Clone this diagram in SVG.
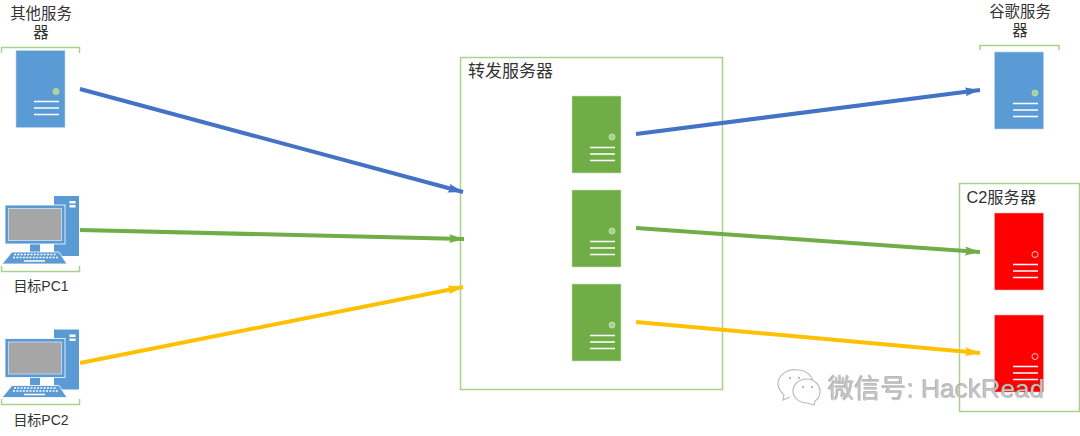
<svg xmlns="http://www.w3.org/2000/svg" width="1080" height="436" viewBox="0 0 1080 436">
<style>
text{font-family:"Liberation Sans","Noto Sans CJK SC",sans-serif;font-size:14px;fill:#333}
.m{text-anchor:middle}
.t{font-size:15.400px}
.box{fill:#fff;stroke:#a9d18e;stroke-width:1.500}
.br{fill:none;stroke:#a9d18e;stroke-width:1.500}
.l{fill:none;stroke:#fff;stroke-width:1.600}
.c{stroke-width:4;fill:none}
.wm{font-size:26.300px;fill:#c4c4c4}
</style>
<defs>
<filter id="emb" x="-5%" y="-20%" width="110%" height="140%"><feDropShadow dx="-.6" dy="-.6" stdDeviation=".25" flood-color="#666" flood-opacity=".75"/></filter>
<marker id="ab" markerUnits="userSpaceOnUse" markerWidth="16" markerHeight="10" refX="15" refY="5" orient="auto"><path d="M0 .5L15 5L0 9.500L2.500 5Z" fill="#4472c4"/></marker>
<marker id="ag" markerUnits="userSpaceOnUse" markerWidth="16" markerHeight="10" refX="15" refY="5" orient="auto"><path d="M0 .5L15 5L0 9.500L2.500 5Z" fill="#70ad47"/></marker>
<marker id="ay" markerUnits="userSpaceOnUse" markerWidth="16" markerHeight="10" refX="15" refY="5" orient="auto"><path d="M0 .5L15 5L0 9.500L2.500 5Z" fill="#ffc000"/></marker>
<g id="lines"><path class="l" d="M18 51.500H43M18 58H43M18 64.500H43"/></g>
<g id="pc">
<rect x="54" y="196" width="25" height="60" fill="#5b9bd5"/>
<rect x="69.500" y="201" width="6" height="2.500" fill="#fff"/><rect x="69.500" y="205" width="6" height="2.500" fill="#fff"/>
<rect x="30" y="243" width="10" height="9" fill="#5b9bd5"/>
<rect x="5" y="205" width="60" height="39" fill="#5b9bd5" stroke="#fff" stroke-width=".8"/>
<rect x="8.500" y="208.500" width="53" height="32" fill="#a6a6a6" stroke="#bdd7ee" stroke-width="1"/>
<path d="M12 252H59L67 264H2Z" fill="#5b9bd5" stroke="#fff" stroke-width=".8"/>
<path d="M14 254.500H57M13 257.500H58" stroke="#fff" stroke-width="1.600" stroke-dasharray="2 1.300" fill="none"/>
<path d="M24 261H45" stroke="#fff" stroke-width="1.500"/>
</g>
</defs>
<rect id="relay-box" class="box" x="460.500" y="57.500" width="262" height="332"/>
<rect id="c2-box" class="box" x="959.500" y="183.500" width="120" height="228"/>
<g id="connectors">
<path class="c" stroke="#4472c4" marker-end="url(#ab)" d="M80 89L463 192"/>
<path class="c" stroke="#70ad47" marker-end="url(#ag)" d="M80 230L464 239"/>
<path class="c" stroke="#ffc000" marker-end="url(#ay)" d="M80 363L463 287"/>
<path class="c" stroke="#4472c4" marker-end="url(#ab)" d="M636 134L980 90"/>
<path class="c" stroke="#70ad47" marker-end="url(#ag)" d="M636 228L980 252"/>
<path class="c" stroke="#ffc000" marker-end="url(#ay)" d="M636 322L980 353"/>
</g>
<g id="other-server">
<text class="m t" x="41" y="19">其他服务</text><text class="m t" x="41" y="38">器</text>
<path class="br" d="M1.500 53V47.500H79.500V53"/>
<rect x="16" y="50.500" width="49" height="77" fill="#5b9bd5" stroke="#bdd7ee" stroke-width=".6"/>
<circle cx="56" cy="91.500" r="3" fill="#a9d18e" stroke="#c5e0b4" stroke-width=".8"/>
<use href="#lines" x="16" y="50"/>
</g>
<g id="pc1"><use href="#pc"/>
<path class="br" d="M1.500 266V271.500H79.500V266"/>
<text class="m" x="41" y="291">目标PC1</text></g>
<g id="pc2"><use href="#pc" y="133.500"/>
<path class="br" d="M1.500 399V404.500H79.500V399"/>
<text class="m" x="41" y="425">目标PC2</text></g>
<g id="relay">
<text x="468" y="77" style="font-size:17px">转发服务器</text>
<g id="relay1"><rect x="572" y="96" width="49" height="77" fill="#70ad47" stroke="#c5e0b4" stroke-width=".6"/><circle cx="612" cy="137" r="3" fill="#a9d18e" stroke="#c5e0b4"/><use href="#lines" x="572" y="96"/></g>
<g id="relay2"><rect x="572" y="190" width="49" height="77" fill="#70ad47" stroke="#c5e0b4" stroke-width=".6"/><circle cx="612" cy="231" r="3" fill="#a9d18e" stroke="#c5e0b4"/><use href="#lines" x="572" y="190"/></g>
<g id="relay3"><rect x="572" y="284" width="49" height="77" fill="#70ad47" stroke="#c5e0b4" stroke-width=".6"/><circle cx="612" cy="325" r="3" fill="#a9d18e" stroke="#c5e0b4"/><use href="#lines" x="572" y="284"/></g>
</g>
<g id="google">
<text class="m t" x="1020" y="17">谷歌服务</text><text class="m t" x="1020" y="36">器</text>
<path class="br" d="M980 50V45.500H1059V50"/>
<rect x="994.500" y="52" width="49" height="77" fill="#5b9bd5" stroke="#bdd7ee" stroke-width=".6"/>
<circle cx="1035" cy="93" r="3" fill="#a9d18e" stroke="#c5e0b4" stroke-width=".8"/>
<use href="#lines" x="995" y="52"/>
</g>
<g id="c2">
<text x="966.500" y="203" style="font-size:16.300px">C2服务器</text>
<g id="c2a"><rect x="994.500" y="213" width="49" height="77" fill="#f00" stroke="#f8b0b0" stroke-width=".6"/><circle cx="1035" cy="254.500" r="3" fill="#f00" stroke="#f8c8c8"/><use href="#lines" x="995" y="213"/></g>
<g id="c2b"><rect x="994.500" y="315" width="49" height="77" fill="#f00" stroke="#f8b0b0" stroke-width=".6"/><circle cx="1035" cy="356.500" r="3" fill="#f00" stroke="#f8c8c8"/><use href="#lines" x="995" y="315"/></g>
</g>
<g id="watermark">
<path d="M798 370C788 368 778 375 778 384C778 389 781 392 784 395L783 400L790 397" fill="#fff" stroke="#bbb" stroke-width="1.200"/>
<path d="M798 370C806 370 812 376 813 381" fill="#fff" stroke="#bbb" stroke-width="1.200"/>
<path d="M807 379C798 379 793 385 793 391C793 398 800 403 807 403L814 405L815 401C818 399 820 395 820 391C820 385 814 379 807 379Z" fill="#fff" stroke="#bbb" stroke-width="1.200"/>
<circle cx="790" cy="378" r="1.200" fill="#bbb"/><circle cx="799" cy="378" r="1.200" fill="#bbb"/><circle cx="803" cy="387" r="1.200" fill="#bbb"/><circle cx="812" cy="387" r="1.200" fill="#bbb"/>
<text class="wm" x="828" y="398" filter="url(#emb)">微信号: HackRead</text>
</g>
</svg>
